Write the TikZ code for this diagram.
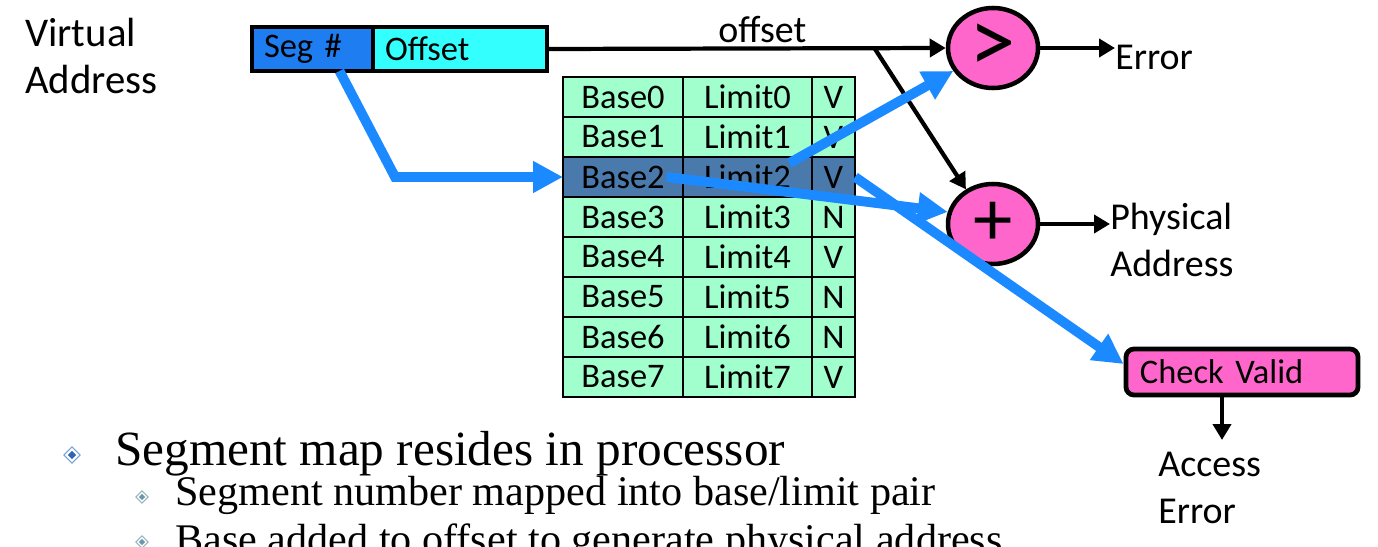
\documentclass[tikz,border=0pt]{standalone}
\usepackage{fontspec}
\setmainfont{Liberation Serif}
\newfontfamily\calibri{Carlito}
\usetikzlibrary{arrows.meta,shapes.geometric,positioning}

\definecolor{segblue}{RGB}{30,125,240}
\definecolor{offcyan}{RGB}{51,255,255}
\definecolor{tabgreen}{RGB}{160,255,204}
\definecolor{rowblue}{RGB}{74,122,172}
\definecolor{flowblue}{RGB}{27,137,255}
\definecolor{opink}{RGB}{255,102,204}
\definecolor{bulout}{RGB}{120,160,210}
\definecolor{bulin}{RGB}{50,100,180}
\definecolor{subout}{RGB}{150,180,190}
\definecolor{subin}{RGB}{110,150,170}

\begin{document}
\begin{tikzpicture}[x=0.025cm,y=-0.025cm,
	cell/.style={draw=black, line width=0.8pt, minimum height=1cm, inner sep=0pt, outer sep=0pt, anchor=north west, font=\calibri\fontsize{24.5}{28}\selectfont},
	field/.style={draw=black, line width=3.4pt, minimum height=1.1cm, inner xsep=0.3cm, outer sep=0pt, align=left, anchor=west, font=\calibri\fontsize{24.5}{28}\selectfont},
	op/.style={ellipse, draw=black, line width=3.2pt, fill=opink, minimum width=2.25cm, minimum height=2cm, inner sep=0pt, font=\calibri\fontsize{56}{56}\selectfont},
	lbl/.style={font=\calibri\fontsize{27}{33}\selectfont, align=left, inner sep=0pt},
	flow/.style={draw=flowblue, line width=7pt, -{Triangle[length=0.75cm,width=0.75cm]}},
	ctl/.style={draw=black, line width=3pt, -{Triangle[length=0.4cm,width=0.45cm]}},
	]
	\useasboundingbox (0,0) rectangle (1378,546);
	\clip (0,0) rectangle (1378,546);

	% virtual address
	\node [lbl, font=\calibri\fontsize{29}{33.5}\selectfont, anchor=north west] (va) at (25,18) {Virtual\\Address};
	\node [field, fill=segblue, minimum width=3.025cm, text width=2.425cm] (seg) at (252,49) {Seg \#};
	\node [field, fill=offcyan, minimum width=4.35cm, text width=3.75cm] (off) at (seg.east) {Offset};

	% segment table
	\foreach \i/\f/\c in {0/V/tabgreen,1/V/tabgreen,2/V/rowblue,3/N/tabgreen,4/V/tabgreen,5/N/tabgreen,6/N/tabgreen,7/V/tabgreen} {
		\node [cell, fill=\c, minimum width=3cm] (b\i) at (563,{77+40*\i}) {Base\i};
		\node [cell, fill=\c, minimum width=3.225cm] (l\i) at (683,{77+40*\i}) {Limit\i};
		\node [cell, fill=\c, minimum width=1.075cm] (v\i) at (812,{77+40*\i}) {\f};
	}

	% operators and results
	\node [op, font=\calibri\fontsize{66}{66}\selectfont] (gt) at (993,48) {>};
	\node [op] (plus) at (993,224) {+};
	\node [lbl, anchor=west] (err) at (1115,57) {Error};
	\node [lbl, anchor=west] (pa) at (1110,240) {Physical\\Address};
	\node [draw=black, line width=3.4pt, rounded corners=0.2cm, fill=opink, minimum width=5.8cm, minimum height=1.15cm, inner xsep=0.35cm, text width=5.1cm, align=left, font=\calibri\fontsize{24.5}{28}\selectfont] (chk) at (1242,372) {Check Valid};
	\node [lbl, anchor=north west] (ae) at (1158,452) {Access\\Error};

	% black connectors
	\coordinate (br) at (875,49);
	\draw [ctl] (off.east) -- node [lbl, pos=0.54, above=0.1cm] (offlbl) {offset} (gt.west);
	\draw [ctl] (br) -- (plus.128);
	\draw [ctl] (gt.east) -- (gt.east -| err.west);
	\draw [ctl] (plus.east) -- (plus.east -| pa.west);
	\draw [ctl] ([xshift=-0.5cm]chk.south) -- ([xshift=-0.5cm,yshift=0.3cm]chk.south |- ae.north);

	% blue flow
	\draw [flow] ([xshift=0.675cm]seg.south) -- (395,177) -- (b2.west);
	\draw [flow] ([shift={(1.05cm,0.35cm)}]l2.center) -- (gt.210);
	\draw [flow] ([xshift=-0.4cm]b2.east) -- (plus.165);
	\draw [flow] (v2.east) -- ([yshift=0.2cm]chk.west);

	% bullets
	\foreach \n/\x/\y/\s/\o/\c in {d0/72/455/0.42cm/bulout/bulin, d1/142/497/0.32cm/subout/subin, d2/142/542/0.32cm/subout/subin} {
		\node [diamond, draw=\o, fill=white, line width=0.8pt, minimum size=\s, inner sep=0pt] (\n) at (\x,\y) {};
		\node [diamond, fill=\c, minimum size=0.5*\s, inner sep=0pt] (\n i) at (\n) {};
	}
	\node [anchor=base west, inner sep=0pt, font=\fontsize{35}{40}\selectfont] (t0) at (115,465) {Segment map resides in processor};
	\node [anchor=base west, inner sep=0pt, font=\fontsize{30}{34}\selectfont] (t1) at (175,505) {Segment number mapped into base/limit pair};
	\node [anchor=base west, inner sep=0pt, font=\fontsize{30}{34}\selectfont] (t2) at (175,553) {Base added to offset to generate physical address};
\end{tikzpicture}
\end{document}
